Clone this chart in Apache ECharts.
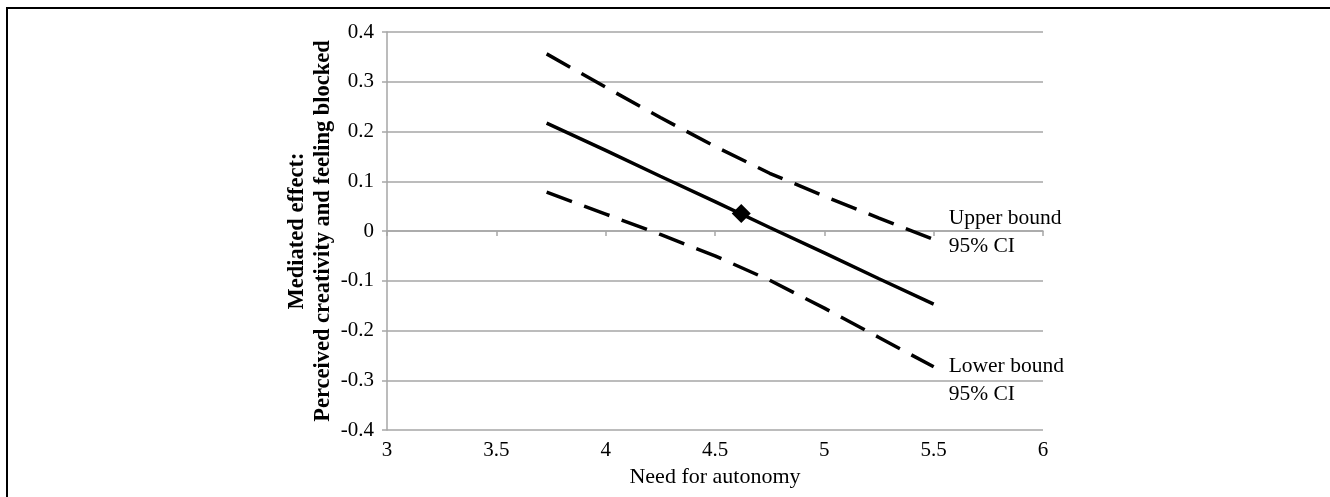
<!DOCTYPE html>
<html>
<head>
<meta charset="utf-8">
<script src="https://cdn.jsdelivr.net/npm/echarts@6/dist/echarts.min.js"></script>
<style>
  html, body { margin: 0; padding: 0; background: #fff; }
  #chart { width: 1330px; height: 497px; }
</style>
</head>
<body>
<div id="chart"></div>
<script>
// Need for autonomy values where the conditional indirect effect was evaluated
const autonomy = [3.73, 4.0, 4.25, 4.5, 4.75, 5.0, 5.25, 5.5];
// Mediated effect estimate
const effect = [0.217, 0.162, 0.110, 0.059, 0.007, -0.044, -0.096, -0.147];
// 95% confidence interval bounds
const upperCI = [0.356, 0.289, 0.228, 0.170, 0.116, 0.070, 0.026, -0.017];
const lowerCI = [0.078, 0.034, -0.007, -0.050, -0.099, -0.155, -0.214, -0.273];
// Effect at the sample mean of need for autonomy
const meanPoint = [4.62, 0.035];

const xTicks = { min: 3, max: 6, interval: 0.5 };
const yTicks = { min: -0.4, max: 0.4, interval: 0.1 };

const font = 'Liberation Serif';
const gridGray = '#a6a6a6';

const pairs = ys => autonomy.map((x, i) => [x, ys[i]]);

const chart = echarts.init(document.getElementById('chart'), null, { renderer: 'canvas' });

chart.setOption({
  animation: false,
  backgroundColor: '#fff',
  grid: { left: 387, top: 32, right: 287, bottom: 67, containLabel: false },
  xAxis: [
    {
      type: 'value',
      position: 'bottom',
      min: xTicks.min, max: xTicks.max, interval: xTicks.interval,
      name: 'Need for autonomy',
      nameLocation: 'middle',
      nameGap: 33,
      nameTextStyle: { fontFamily: font, fontSize: 22, color: '#000' },
      axisLine: { show: false, onZero: false },
      axisTick: { show: false },
      splitLine: { show: false },
      axisLabel: { fontFamily: font, fontSize: 21, color: '#000', margin: 10 }
    },
    {
      type: 'value',
      position: 'bottom',
      min: xTicks.min, max: xTicks.max, interval: xTicks.interval,
      axisLine: { show: true, onZero: true, lineStyle: { color: gridGray, width: 1.5 } },
      axisTick: { show: true, length: 5, lineStyle: { color: gridGray, width: 1.5 } },
      axisLabel: { show: false },
      splitLine: { show: false }
    }
  ],
  yAxis: {
    type: 'value',
    min: yTicks.min, max: yTicks.max, interval: yTicks.interval,
    name: 'Mediated effect:\nPerceived creativity and feeling blocked',
    nameLocation: 'middle',
    nameRotate: 90,
    nameGap: 51,
    nameTextStyle: { fontFamily: font, fontSize: 22.5, fontWeight: 'bold', color: '#000', lineHeight: 26, align: 'center' },
    axisLine: { show: true, onZero: false, lineStyle: { color: gridGray, width: 1.5 } },
    axisTick: { show: true, length: 5, lineStyle: { color: gridGray, width: 1.5 } },
    axisLabel: { fontFamily: font, fontSize: 21, color: '#000', margin: 13 },
    splitLine: { show: true, lineStyle: { color: gridGray, width: 1.5 } }
  },
  series: [
    {
      name: 'Upper bound',
      type: 'line',
      data: pairs(upperCI),
      showSymbol: false,
      lineStyle: { color: '#000', width: 3.5, type: [27, 13], cap: 'butt' },
      endLabel: {
        show: true,
        formatter: 'Upper bound\n95% CI',
        fontFamily: font, fontSize: 21.5, color: '#000', lineHeight: 28,
        align: 'left', offset: [7, -7]
      }
    },
    {
      name: 'Effect',
      type: 'line',
      data: pairs(effect),
      showSymbol: false,
      lineStyle: { color: '#000', width: 3.5 }
    },
    {
      name: 'Lower bound',
      type: 'line',
      data: pairs(lowerCI),
      showSymbol: false,
      lineStyle: { color: '#000', width: 3.5, type: [27, 13], cap: 'butt' },
      endLabel: {
        show: true,
        formatter: 'Lower bound\n95% CI',
        fontFamily: font, fontSize: 21.5, color: '#000', lineHeight: 28,
        align: 'left', offset: [7, 14]
      }
    },
    {
      name: 'Mean',
      type: 'scatter',
      data: [meanPoint],
      symbol: 'diamond',
      symbolSize: 19,
      itemStyle: { color: '#000', opacity: 1 },
      z: 5
    }
  ],
  graphic: [
    { type: 'line', shape: { x1: 6, y1: 8, x2: 1330, y2: 8 }, style: { stroke: '#000', lineWidth: 2 }, silent: true },
    { type: 'line', shape: { x1: 7, y1: 7, x2: 7, y2: 497 }, style: { stroke: '#000', lineWidth: 2 }, silent: true }
  ]
});
</script>
</body>
</html>
